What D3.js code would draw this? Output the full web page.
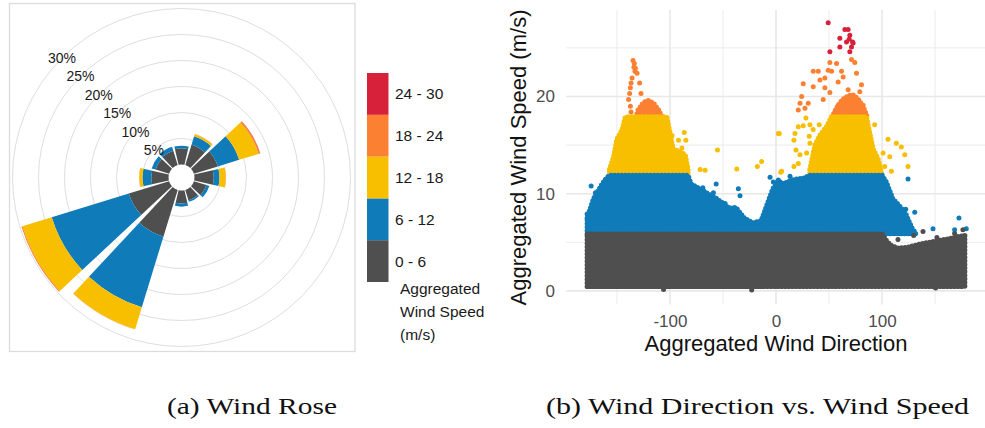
<!DOCTYPE html>
<html lang="en">
<head>
    <meta charset="UTF-8">
    <script src="https://cdn.jsdelivr.net/npm/d3@7"></script>
    <title>Wind Rose and Wind Direction vs. Wind Speed</title>
    <style>
        html,
        body {
            margin: 0px;
            padding: 0px;
            background-color: #ffffff;
            font-family: "Liberation Sans", Arial, sans-serif;
        }
    </style>
</head>
<body>
    <div id='chart'></div>
    <script>

        // speed classes, colours
        let speed_classes = ['0 - 6', '6 - 12', '12 - 18', '18 - 24', '24 - 30'];
        let class_colors = ['#4f4f4f', '#0f7bb9', '#f8be00', '#fc8031', '#d7213a'];

        // wind rose: direction bins (deg) and percentage per speed class
        let directions = [0, 30, 60, 90, 120, 150, 180, 210, 240, 270, 300, 330];
        let pct_0_6   = [3.1, 4.1, 4.8, 3.7, 2.5, 2.1, 2.5, 9.4, 8.1, 3.3, 2.7, 2.9];
        let pct_6_12  = [0.5, 1.7, 4.3, 1.1, 0.6, 0.3, 0.6, 14.2, 15.5, 1.7, 0.8, 0.8];
        let pct_12_18 = [0, 0.4, 3.9, 1.2, 0, 0, 0, 4.4, 5.9, 0.6, 0, 0];
        let pct_18_24 = [0, 0.06, 0.3, 0.06, 0, 0, 0, 0.04, 0.2, 0.06, 0, 0];
        let pct_24_30 = [0, 0, 0.05, 0, 0, 0, 0, 0, 0, 0, 0, 0];
        let pct_ticks = [5, 10, 15, 20, 25, 30];

        // scatter: dense bands, read as envelopes (direction -> top speed)
        let gray_dir = [-178, 100, 104, 108, 115, 125, 135, 145, 155, 165, 172, 178];
        let gray_top = [5.85, 5.85, 5.2, 4.7, 4.4, 4.5, 4.8, 5.0, 5.2, 5.4, 5.6, 5.7];
        let gray_bottom = 0.45;

        let blue_dir = [-178, -172, -165, -160, -157, -83, -80, -72, -64, -56, -50, -44, -38, -30, -22, -14, -8, -3, 2, 8, 14, 20, 26, 32, 100, 104, 110, 116, 122, 128, 132];
        let blue_top = [7.5, 9.5, 10.8, 11.6, 11.9, 11.9, 11.0, 10.5, 10.0, 9.5, 9.0, 8.5, 8.6, 7.5, 7.0, 7.2, 9.0, 10.5, 11.3, 11.0, 11.4, 11.5, 11.6, 11.9, 11.9, 11.2, 9.5, 8.8, 8.0, 6.5, 5.9];
        let blue_bottom = 5.9;

        let yellow_left_dir = [-157, -153, -150, -145, -142, -103, -101.5, -97, -90, -85.6, -83];
        let yellow_left_top = [12.5, 13.8, 15.6, 16.6, 17.9, 17.9, 17.1, 14.6, 14.3, 14.0, 12.5];
        let yellow_right_dir = [32, 36.7, 41.4, 47.7, 52.4, 85.3, 86.8, 91.5, 96.2, 99.4];
        let yellow_right_top = [12.5, 15.0, 16.0, 16.9, 17.9, 17.9, 17.1, 14.6, 13.6, 12.2];
        let yellow_bottom = 11.9;

        let orange_left_dir = [-132, -130, -124.8, -120, -115.4, -110.7, -107.5];
        let orange_left_top = [17.9, 18.6, 19.4, 19.6, 19.3, 18.6, 17.9];
        let orange_right_dir = [53, 57, 62, 67, 72, 77, 82, 86];
        let orange_right_top = [17.9, 18.8, 19.6, 20.0, 20.2, 19.8, 19.0, 17.9];
        let orange_bottom = 17.9;

        // scatter: single points outside the dense bands
        let gray_pts_dir   = [115, 129.8, 138.6, 151.7, 168.4, 176.2, -106, -22.9, 150.5];
        let gray_pts_speed = [5.3, 5.7, 6.1, 5.5, 5.9, 6.3, 0.15, 0.1, 0.3];

        let blue_pts_dir   = [-178.1, -174.3, -170.3, -77.8, -69, -59, -56.4, -48, -35.5, -33.9, -5.6, -2.5, 2.2, 8.5, 13.2, 122.3, 124.5, 126.1, 130.8, 148, 168.4, 172.5, 179.4];
        let blue_pts_speed = [7.9, 10.8, 10.1, 10.7, 10.6, 10.1, 11.0, 9.0, 10.5, 9.8, 11.7, 11.2, 11.4, 11.1, 11.8, 8.4, 11.5, 6.7, 8.1, 6.4, 6.3, 7.5, 6.4];

        let yellow_pts_dir   = [-103.5, -98.1, -91.9, -86.5, -85, -88.7, -87.2, -96.6, -71.5, -66.8, -55.2, -37, -17.6, -13.5, 2.2, 5.3, 4.4,
                                3.1, 16.9, 21, 18.8, 16.9, 17.9, 21, 25.7, 28.2, 32, 35, 40.7, 31.3, 32, 28.9, 22.6,
                                93, 105.6, 113.5, 118.2, 121.4, 107.2, 101, 102.5, 108.8, 124.5];
        let yellow_pts_speed = [16.5, 16.0, 15.5, 16.3, 15.5, 14.7, 14.0, 14.2, 12.5, 12.4, 14.5, 12.55, 12.8, 13.3, 16.2, 12.3, 12.2,
                                16.2, 12.8, 13.1, 14.5, 15.5, 16.2, 16.9, 17.0, 17.8, 17.1, 16.6, 17.1, 15.9, 15.2, 14.2, 14.0,
                                17.1, 15.6, 15.2, 14.8, 14.0, 13.8, 14.2, 12.8, 12.3, 12.8];

        let orange_pts_dir   = [-134.8, -133.6, -132.6, -131, -135.7, -136.7, -137.3, -138, -139, -137.3, -136.7, -128.6, -127.3, -134, -133,
                                50.8, 57.1, 49.2, 52.4, 35.1, 39.8, 41.4, 46.1, 25.7, 24.2, 22.6, 21, 27.3, 30.4, 35.1, 46.1, 50.8, 44.5,
                                61.8, 63.3, 58.6, 71.2, 74.3, 75.9, 80.6, 79, 72.7, 64.9, 68, 82.1, 69.6, 57.1, 58.6];
        let orange_pts_speed = [23.7, 23.4, 22.9, 22.4, 21.9, 21.4, 20.9, 20.3, 19.7, 19.0, 18.4, 21.4, 20.3, 23.0, 22.6,
                                23.5, 23.4, 22.7, 22.6, 22.6, 22.6, 21.7, 21.9, 21.3, 20.0, 19.3, 18.6, 18.8, 19.3, 21.0, 20.9, 20.4, 19.7,
                                22.6, 22.0, 21.5, 23.8, 23.5, 22.4, 21.2, 20.5, 19.5, 19.7, 20.7, 19.1, 18.6, 18.6, 19.1];

        let red_pts_dir   = [49.2, 64.9, 68, 69.6, 72.2, 66.5, 71.2, 69.6, 60.2, 60.2, 50.8, 72.7, 69];
        let red_pts_speed = [27.6, 26.9, 26.9, 26.3, 25.6, 25.6, 25.1, 24.6, 26.0, 25.1, 24.6, 25.5, 25.9];

        let x_major = [-100, 0, 100];
        let x_minor = [-150, -50, 50, 150];
        let y_major = [0, 10, 20];
        let y_minor = [5, 15, 25];

        let svg = d3.select('#chart').append('svg').attr('width', 985).attr('height', 428);

        // ---------- (a) wind rose ----------
        svg.append('rect')
            .attr('x', 9.5).attr('y', 3.5).attr('width', 345.5).attr('height', 348)
            .attr('fill', 'none').attr('stroke', '#dcdcdc').attr('stroke-width', 1.3);

        let rose = svg.append('g').attr('transform', 'translate(181.5,177.5)');
        let r = d3.scaleLinear().domain([0, 30]).range([13, 169]);

        rose.selectAll('circle.grid')
            .data(pct_ticks)
            .join('circle')
            .attr('class', 'grid')
            .attr('r', d => r(d))
            .attr('fill', 'none')
            .attr('stroke', '#dedede')
            .attr('stroke-width', 1);

        let rows = directions.map((d, i) => ({
            dir: d, c0: pct_0_6[i], c1: pct_6_12[i], c2: pct_12_18[i], c3: pct_18_24[i], c4: pct_24_30[i]
        }));
        let keys = ['c0', 'c1', 'c2', 'c3', 'c4'];
        let stacked = d3.stack().keys(keys)(rows);

        let half = 13 * Math.PI / 180;
        let arc = d3.arc()
            .innerRadius(d => r(d[0]))
            .outerRadius(d => r(d[1]))
            .startAngle(d => d.data.dir * Math.PI / 180 - half)
            .endAngle(d => d.data.dir * Math.PI / 180 + half);

        rose.selectAll('g.layer')
            .data(stacked)
            .join('g')
            .attr('class', 'layer')
            .attr('fill', (d, i) => class_colors[i])
            .selectAll('path')
            .data(d => d.filter(s => s[1] > s[0]))
            .join('path')
            .attr('d', arc);

        let diag = -Math.PI / 4;
        rose.selectAll('text.pct')
            .data(pct_ticks)
            .join('text')
            .attr('class', 'pct')
            .attr('x', d => r(d) * Math.sin(diag))
            .attr('y', d => -r(d) * Math.cos(diag))
            .attr('text-anchor', 'middle')
            .attr('dominant-baseline', 'central')
            .attr('font-size', '14px')
            .attr('fill', '#1a1a1a')
            .text(d => d + '%');

        // legend
        let leg_y = d3.scaleBand().domain(speed_classes.slice().reverse()).range([73, 282]);
        let legend = svg.append('g');
        legend.selectAll('rect')
            .data(speed_classes)
            .join('rect')
            .attr('x', 367).attr('width', 21.5)
            .attr('y', d => leg_y(d)).attr('height', leg_y.bandwidth())
            .attr('fill', (d, i) => class_colors[i]);
        legend.selectAll('text.lab')
            .data(speed_classes)
            .join('text')
            .attr('class', 'lab')
            .attr('x', 395)
            .attr('y', d => leg_y(d) + leg_y.bandwidth() / 2)
            .attr('dominant-baseline', 'central')
            .attr('font-size', '15.5px')
            .attr('fill', '#1a1a1a')
            .text(d => d);
        legend.selectAll('text.title')
            .data(['Aggregated', 'Wind Speed', '(m/s)'])
            .join('text')
            .attr('class', 'title')
            .attr('x', 400)
            .attr('y', (d, i) => 294 + i * 22.8)
            .attr('font-size', '15.5px')
            .attr('fill', '#1a1a1a')
            .text(d => d);

        // ---------- (b) scatter ----------
        let x = d3.scaleLinear().domain([-198, 198]).range([566, 986]);
        let y = d3.scaleLinear().domain([-1.4, 28.9]).range([304.5, 10]);

        let grid = svg.append('g');
        grid.selectAll('line.vmin').data(x_minor).join('line')
            .attr('x1', d => x(d)).attr('x2', d => x(d)).attr('y1', 10).attr('y2', 304.5)
            .attr('stroke', '#ececec').attr('stroke-width', 1);
        grid.selectAll('line.hmin').data(y_minor).join('line')
            .attr('y1', d => y(d)).attr('y2', d => y(d)).attr('x1', 566).attr('x2', 986)
            .attr('stroke', '#ececec').attr('stroke-width', 1);
        grid.selectAll('line.vmaj').data(x_major).join('line')
            .attr('x1', d => x(d)).attr('x2', d => x(d)).attr('y1', 10).attr('y2', 304.5)
            .attr('stroke', '#e8e8e8').attr('stroke-width', 1.6);
        grid.selectAll('line.hmaj').data(y_major).join('line')
            .attr('y1', d => y(d)).attr('y2', d => y(d)).attr('x1', 566).attr('x2', 986)
            .attr('stroke', '#e8e8e8').attr('stroke-width', 1.6);

        let plot = svg.append('g');

        // dense point clouds: filled envelope, outline drawn as a chain of dots
        function band(dirs, tops, bottom, color) {
            let pts = dirs.map((d, i) => [d, tops[i]]);
            let area = d3.area()
                .x(d => x(d[0]))
                .y0(y(bottom))
                .y1(d => y(d[1]));
            plot.append('path')
                .datum(pts)
                .attr('d', area)
                .attr('fill', color)
                .attr('stroke', color)
                .attr('stroke-width', 2)
                .attr('stroke-linejoin', 'round');
            plot.append('path')
                .datum(pts)
                .attr('d', area)
                .attr('fill', 'none')
                .attr('stroke', color)
                .attr('stroke-width', 5.2)
                .attr('stroke-linecap', 'round')
                .attr('stroke-dasharray', '0,3.6');
        }

        function dots(dirs, speeds, color) {
            plot.append('g')
                .selectAll('circle')
                .data(dirs.map((d, i) => [d, speeds[i]]))
                .join('circle')
                .attr('cx', d => x(d[0]))
                .attr('cy', d => y(d[1]))
                .attr('r', 2.5)
                .attr('fill', color);
        }

        // higher speeds first, lower classes drawn on top
        dots(red_pts_dir, red_pts_speed, class_colors[4]);
        band(orange_left_dir, orange_left_top, orange_bottom, class_colors[3]);
        band(orange_right_dir, orange_right_top, orange_bottom, class_colors[3]);
        dots(orange_pts_dir, orange_pts_speed, class_colors[3]);
        band(yellow_left_dir, yellow_left_top, yellow_bottom, class_colors[2]);
        band(yellow_right_dir, yellow_right_top, yellow_bottom, class_colors[2]);
        dots(yellow_pts_dir, yellow_pts_speed, class_colors[2]);
        band(blue_dir, blue_top, blue_bottom, class_colors[1]);
        dots(blue_pts_dir, blue_pts_speed, class_colors[1]);
        band(gray_dir, gray_top, gray_bottom, class_colors[0]);
        dots(gray_pts_dir, gray_pts_speed, class_colors[0]);

        // axes
        let xAxis = svg.append('g')
            .attr('transform', 'translate(0,304.5)')
            .call(d3.axisBottom(x).tickValues(x_major).tickSize(0).tickPadding(10.5).tickFormat(d3.format('d')));
        let yAxis = svg.append('g')
            .attr('transform', 'translate(566,0)')
            .call(d3.axisLeft(y).tickValues(y_major).tickSize(0).tickPadding(11));
        [xAxis, yAxis].forEach(a => {
            a.select('.domain').remove();
            a.selectAll('text')
                .attr('font-family', '"Liberation Sans", Arial, sans-serif')
                .attr('font-size', '17px')
                .attr('fill', '#4d4d4d');
        });
        xAxis.selectAll('text').text(d => d < 0 ? '-' + Math.abs(d) : d);

        svg.append('text')
            .attr('x', 776).attr('y', 351)
            .attr('text-anchor', 'middle')
            .attr('font-size', '22px')
            .attr('fill', '#111')
            .text('Aggregated Wind Direction');
        svg.append('text')
            .attr('transform', 'translate(526,157.5) rotate(-90)')
            .attr('text-anchor', 'middle')
            .attr('font-size', '22px')
            .attr('fill', '#111')
            .text('Aggregated Wind Speed (m/s)');

        // captions
        let captions = [
            { text: '(a) Wind Rose', cx: 252, w: 170 },
            { text: '(b) Wind Direction vs. Wind Speed', cx: 757.5, w: 423 }
        ];
        svg.selectAll('text.caption')
            .data(captions)
            .join('text')
            .attr('class', 'caption')
            .attr('x', d => d.cx - d.w / 2)
            .attr('y', 414)
            .attr('font-family', '"Liberation Serif", "Times New Roman", serif')
            .attr('font-size', '23px')
            .attr('fill', '#111')
            .attr('textLength', d => d.w)
            .attr('lengthAdjust', 'spacingAndGlyphs')
            .text(d => d.text);

    </script>
</body>
</html>
